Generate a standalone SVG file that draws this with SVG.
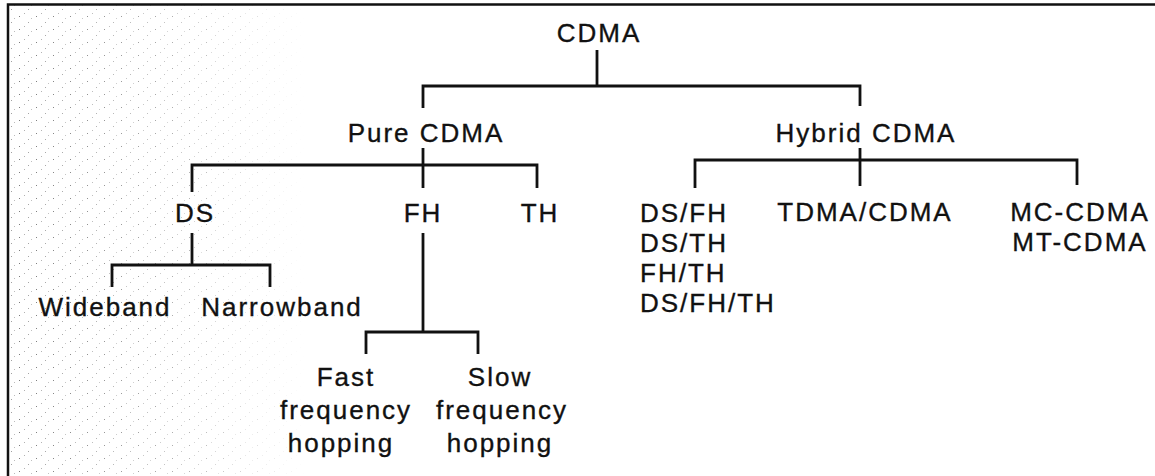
<svg xmlns="http://www.w3.org/2000/svg" width="1155" height="476" viewBox="0 0 1155 476">
<style>
text{font-family:"Liberation Sans",Arial,sans-serif;font-size:26px;fill:#111;letter-spacing:2px;stroke:#111;stroke-width:0.35px}
.m{text-anchor:middle}
.c line,.c path{stroke:#111;stroke-width:2.8;fill:none}
.b{stroke:#111;stroke-width:2.5;fill:none}
</style>
<defs>
<pattern id="dots" width="17" height="13" patternUnits="userSpaceOnUse">
<rect x="2" y="3" width="1" height="1" fill="#555"/>
<rect x="11" y="9" width="1" height="1" fill="#888"/>
<rect x="7" y="0" width="1" height="1" fill="#999"/>
<rect x="14" y="5" width="1" height="1" fill="#aaa"/>
</pattern>
<linearGradient id="fade" x1="0" y1="0" x2="1" y2="0">
<stop offset="0" stop-color="#fff" stop-opacity="0.8"/>
<stop offset="0.6" stop-color="#fff" stop-opacity="0.45"/>
<stop offset="1" stop-color="#fff" stop-opacity="0"/>
</linearGradient>
<mask id="fm"><rect x="8" y="5" width="300" height="471" fill="url(#fade)"/></mask>
</defs>
<rect width="1155" height="476" fill="#fff"/>
<rect x="8" y="5" width="300" height="471" fill="url(#dots)" mask="url(#fm)"/>
<path class="b" d="M8,476 V4.5 H1155"/>
<g class="c" id="connectors">
<line x1="597" y1="50" x2="597" y2="86"/>
<path d="M423,108 V86 H860 V106"/>
<line x1="423" y1="148" x2="423" y2="188"/>
<path d="M192,192 V165 H537 V188"/>
<line x1="860" y1="148" x2="860" y2="186"/>
<path d="M695,188 V160 H1077 V185"/>
<path d="M192,233 V265"/>
<path d="M112,287 V265 H270 V287"/>
<path d="M423,233 V332"/>
<path d="M366,354 V332 H478 V354"/>
</g>
<g id="n-cdma"><text class="m" x="599" y="42">CDMA</text></g>
<g id="n-pure"><text class="m" x="426" y="142">Pure CDMA</text></g>
<g id="n-hybrid"><text class="m" x="866" y="142">Hybrid CDMA</text></g>
<g id="n-ds"><text class="m" x="195" y="222">DS</text></g>
<g id="n-fh"><text class="m" x="423" y="222">FH</text></g>
<g id="n-th"><text class="m" x="540" y="222">TH</text></g>
<g id="n-combo"><text x="640" y="222">DS/FH</text><text x="640" y="252">DS/TH</text><text x="640" y="282">FH/TH</text><text x="640" y="312">DS/FH/TH</text></g>
<g id="n-tdma"><text class="m" x="865" y="221">TDMA/CDMA</text></g>
<g id="n-mc"><text class="m" x="1080" y="221">MC-CDMA</text><text class="m" x="1080" y="251">MT-CDMA</text></g>
<g id="n-wide"><text class="m" x="105" y="316">Wideband</text></g>
<g id="n-narrow"><text class="m" x="282" y="316">Narrowband</text></g>
<g id="n-fast"><text class="m" x="346" y="386">Fast</text><text class="m" x="346" y="419">frequency</text><text class="m" x="341" y="452">hopping</text></g>
<g id="n-slow"><text class="m" x="500" y="386">Slow</text><text class="m" x="502" y="419">frequency</text><text class="m" x="500" y="452">hopping</text></g>
</svg>
